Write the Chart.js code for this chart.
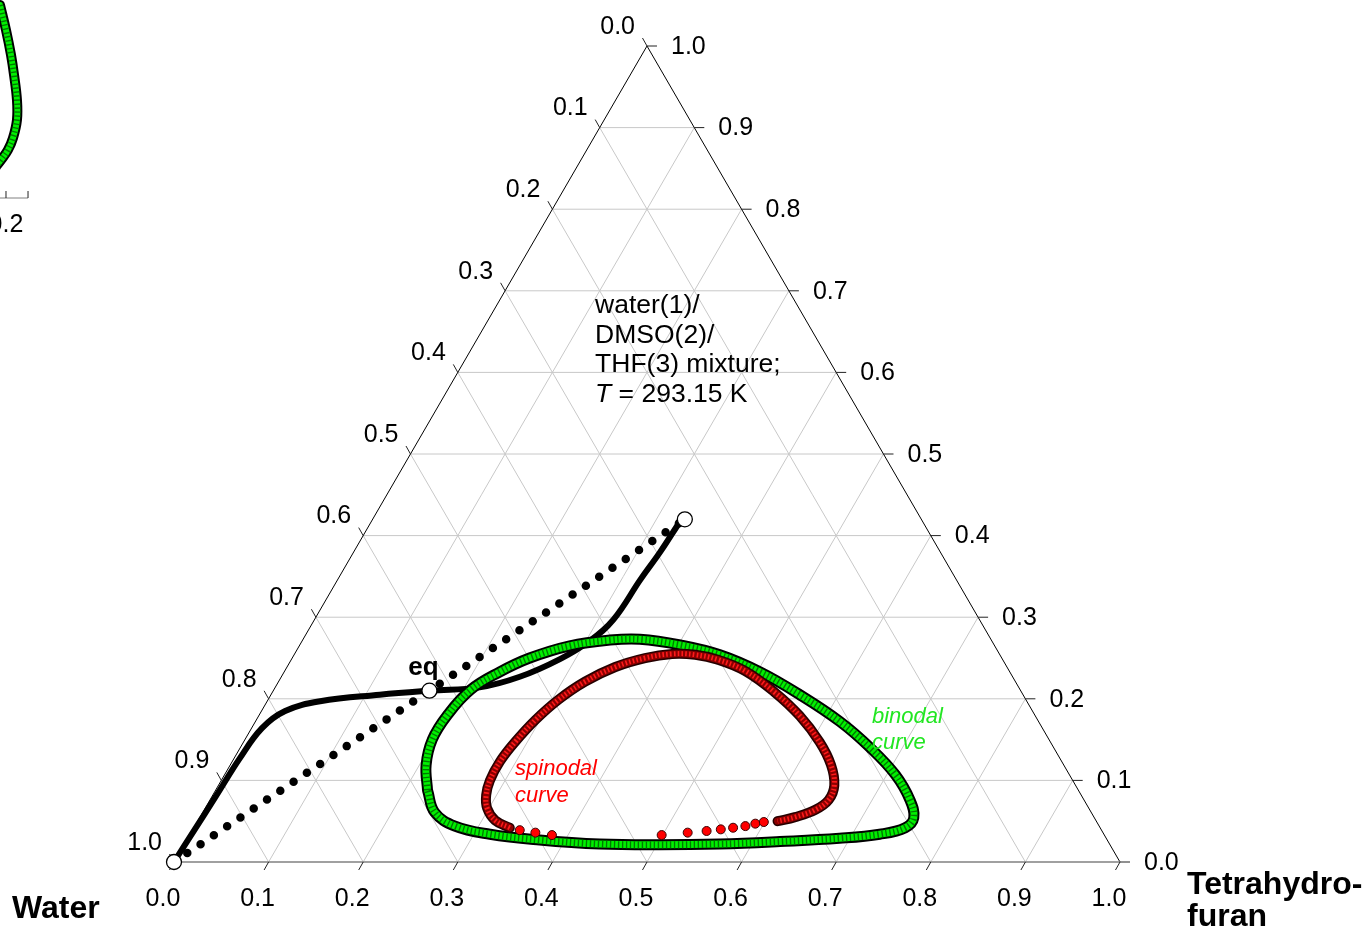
<!DOCTYPE html>
<html>
<head>
<meta charset="utf-8">
<title>water / DMSO / THF ternary diagram</title>
<script src="https://cdn.jsdelivr.net/npm/chart.js@4.4.1/dist/chart.umd.min.js"></script>
<style>
  html, body { margin: 0; padding: 0; background: #fff; overflow: hidden; }
  canvas { display: block; }
</style>
</head>
<body>
<canvas id="ternaryChart" width="1367" height="934"></canvas>
<script>
// ---- data: mole fractions THF (x3) and DMSO (x2); water x1 = 1 - x2 - x3 ----
const tickValues = [0, 0.1, 0.2, 0.3, 0.4, 0.5, 0.6, 0.7, 0.8, 0.9, 1.0];
const tickLabels = ['0.0', '0.1', '0.2', '0.3', '0.4', '0.5', '0.6', '0.7', '0.8', '0.9', '1.0'];

const binodalTHF  = [0.224, 0.207, 0.198, 0.199, 0.208, 0.228, 0.251, 0.286, 0.325, 0.356, 0.402, 0.450, 0.503, 0.559, 0.618,
                     0.666, 0.709, 0.740, 0.755, 0.752, 0.729, 0.689, 0.628, 0.566, 0.503, 0.439, 0.373, 0.317, 0.275, 0.245, 0.224];
const binodalDMSO = [0.088, 0.119, 0.150, 0.180, 0.211, 0.233, 0.250, 0.265, 0.272, 0.273, 0.266, 0.254, 0.233, 0.205, 0.172,
                     0.140, 0.107, 0.076, 0.054, 0.042, 0.034, 0.029, 0.025, 0.022, 0.021, 0.022, 0.027, 0.034, 0.044, 0.061, 0.088];

const spinodalTHF  = [0.334, 0.314, 0.298, 0.289, 0.284, 0.283, 0.287, 0.295, 0.307, 0.324, 0.347, 0.373, 0.399,
                      0.424, 0.451, 0.487, 0.531, 0.572, 0.609, 0.635, 0.651, 0.654, 0.646, 0.629, 0.613];
const spinodalDMSO = [0.042, 0.051, 0.066, 0.082, 0.100, 0.123, 0.147, 0.174, 0.199, 0.221, 0.239, 0.250, 0.255,
                      0.254, 0.248, 0.234, 0.208, 0.179, 0.147, 0.119, 0.094, 0.076, 0.064, 0.055, 0.050];
// spinodal points that stand apart along the lower branch
const spinodalDotTHF  = [0.346, 0.364, 0.383, 0.499, 0.525, 0.544, 0.558, 0.570, 0.582, 0.591, 0.599];
const spinodalDotDMSO = [0.039, 0.036, 0.033, 0.033, 0.036, 0.038, 0.040, 0.042, 0.044, 0.047, 0.049];

// composition path (solid black)
const pathTHF  = [0.000, 0.002, 0.004, 0.006, 0.011, 0.025, 0.056, 0.115, 0.166, 0.216, 0.252, 0.284, 0.304, 0.316, 0.320, 0.324, 0.326];
const pathDMSO = [0.000, 0.040, 0.080, 0.127, 0.164, 0.185, 0.197, 0.205, 0.210, 0.214, 0.227, 0.249, 0.271, 0.297, 0.346, 0.380, 0.413];

// tie line: pure water, equilibrium point "eq", feed
const tieTHF  = [0.000, 0.165, 0.330];
const tieDMSO = [0.000, 0.210, 0.420];

// cropped neighbouring panel at the top-left corner (plot units)
const insetX = [-0.1839, -0.1776, -0.1723, -0.1691, -0.1660, -0.1660, -0.1702, -0.1755, -0.1829, -0.1892];
const insetY = [0.9095, 0.8830, 0.8565, 0.8353, 0.8087, 0.7875, 0.7684, 0.7557, 0.7450, 0.7366];

// ---- helpers ----
const H = Math.sqrt(3) / 2;
function toXY(thf, dmso) { return { x: thf + dmso / 2, y: dmso * H }; }
function series(a, b) { return a.map((v, i) => toXY(v, b[i])); }

const FONT = '"Liberation Sans", Arial, sans-serif';

function band(data, color, width, extra) {
  return Object.assign({
    type: 'scatter', data: data, showLine: true, pointRadius: 0, tension: 0.4,
    borderColor: color, borderWidth: width, fill: false, borderJoinStyle: 'round', borderCapStyle: 'round'
  }, extra || {});
}

// ---- frame, grid, ticks and texts ----
const ternaryFrame = {
  id: 'ternaryFrame',
  beforeDatasetsDraw(chart) {
    const { ctx, scales: { x, y } } = chart;
    const P = (thf, dmso) => { const p = toXY(thf, dmso); return [x.getPixelForValue(p.x), y.getPixelForValue(p.y)]; };
    const seg = (a, b) => { ctx.beginPath(); ctx.moveTo(a[0], a[1]); ctx.lineTo(b[0], b[1]); ctx.stroke(); };
    ctx.save();
    ctx.strokeStyle = '#c8c8c8';
    ctx.lineWidth = 1;
    tickValues.slice(1, -1).forEach(v => {
      seg(P(0, v), P(1 - v, v));
      seg(P(v, 0), P(v, 1 - v));
      seg(P(1 - v, 0), P(0, 1 - v));
    });
    ctx.strokeStyle = '#000';
    seg(P(0, 0), P(0, 1));
    seg(P(1, 0), P(0, 1));
    ctx.strokeStyle = '#808080';
    ctx.lineWidth = 1.5;
    seg(P(0, 0), P(1, 0));
    ctx.strokeStyle = '#222';
    ctx.lineWidth = 1;
    tickValues.forEach(v => {
      const b = P(v, 0); seg(b, [b[0] - 4.5, b[1] + 8]);
      const r = P(1 - v, v); seg(r, [r[0] + 10, r[1]]);
      const l = P(0, 1 - v); seg(l, [l[0] - 4.5, l[1] - 8]);
    });
    // axis remnant of the neighbouring panel
    const ay = y.getPixelForValue(0.7047);
    ctx.strokeStyle = '#808080';
    seg([x.getPixelForValue(-0.19), ay], [x.getPixelForValue(-0.1543), ay]);
    ctx.strokeStyle = '#222';
    [-0.1776, -0.1543].forEach(t => seg([x.getPixelForValue(t), ay], [x.getPixelForValue(t), ay - 7]));
    ctx.restore();
  },
  afterDatasetsDraw(chart) {
    const { ctx, scales: { x, y } } = chart;
    const P = (thf, dmso) => { const p = toXY(thf, dmso); return [x.getPixelForValue(p.x), y.getPixelForValue(p.y)]; };
    const X = v => x.getPixelForValue(v), Y = v => y.getPixelForValue(v);
    ctx.save();
    ctx.fillStyle = '#000';
    ctx.font = '25px ' + FONT;
    ctx.textBaseline = 'middle';
    tickValues.forEach((v, i) => {
      const b = P(v, 0);
      ctx.textAlign = 'center'; ctx.fillText(tickLabels[i], b[0] - 11, b[1] + 37);
      const r = P(1 - v, v);
      ctx.textAlign = 'left'; ctx.fillText(tickLabels[i], r[0] + 24, r[1] + 1);
      const l = P(0, 1 - v);
      ctx.textAlign = 'right'; ctx.fillText(tickLabels[i], l[0] - 12, l[1] - 19);
    });
    ctx.textAlign = 'center';
    ctx.fillText('0.2', X(-0.1776), Y(0.7047) + 27);

    // mixture annotation
    ctx.textAlign = 'left';
    ctx.textBaseline = 'alphabetic';
    ctx.font = '26.5px ' + FONT;
    const ax = X(0.4451), ay = Y(0.5827);
    ['water(1)/', 'DMSO(2)/', 'THF(3) mixture;'].forEach((s, i) => ctx.fillText(s, ax, ay + i * 29.7));
    ctx.font = 'italic 26.5px ' + FONT;
    ctx.fillText('T', ax, ay + 3 * 29.7);
    const tw = ctx.measureText('T').width;
    ctx.font = '26.5px ' + FONT;
    ctx.fillText(' = 293.15 K', ax + tw, ay + 3 * 29.7);

    // eq label
    const e = P(tieTHF[1], tieDMSO[1]);
    ctx.font = 'bold 26px ' + FONT;
    ctx.textAlign = 'center';
    ctx.fillText('eq', e[0] - 6, e[1] - 16);

    // curve labels
    ctx.textAlign = 'left';
    ctx.font = 'italic 22px ' + FONT;
    ctx.fillStyle = '#ff0000';
    ctx.fillText('spinodal', X(0.3605), Y(0.0923));
    ctx.fillText('curve', X(0.3605), Y(0.0923) + 27);
    ctx.fillStyle = '#22e622';
    ctx.fillText('binodal', X(0.7378), Y(0.1475));
    ctx.fillText('curve', X(0.7378), Y(0.1475) + 26);

    // component names
    ctx.fillStyle = '#000';
    ctx.font = 'bold 32px ' + FONT;
    ctx.fillText('Water', X(-0.1712), Y(-0.0594));
    ctx.fillText('Tetrahydro-', X(1.0708), Y(-0.0340));
    ctx.fillText('furan', X(1.0708), Y(-0.0340) + 32);
    ctx.restore();
  }
};

// ---- chart ----
const binodal = series(binodalTHF, binodalDMSO);
const spinodal = series(spinodalTHF, spinodalDMSO);
const inset = insetX.map((v, i) => ({ x: v, y: insetY[i] }));

new Chart(document.getElementById('ternaryChart').getContext('2d'), {
  type: 'scatter',
  data: {
    datasets: [
      // drawn top first
      { data: series(tieTHF, tieDMSO), pointRadius: 7.5, pointBackgroundColor: '#fff',
        pointBorderColor: '#000', pointBorderWidth: 1.3, showLine: false },
      { data: series(spinodalDotTHF, spinodalDotDMSO), pointRadius: 4.5, pointBackgroundColor: '#ff0000',
        pointBorderColor: '#3a0000', pointBorderWidth: 1, showLine: false },
      band(spinodal, '#ff1a1a', 5, { borderDash: [1.6, 2.2], borderCapStyle: 'butt' }),
      band(spinodal, '#8a0000', 7),
      band(spinodal, '#240000', 10),
      band(binodal, '#007a00', 7, { borderDash: [1.4, 2.6], borderCapStyle: 'butt' }),
      band(binodal, '#00f000', 7),
      band(binodal, '#000', 11),
      band(inset, '#007a00', 6, { borderDash: [1.4, 2.6], borderCapStyle: 'butt' }),
      band(inset, '#00f000', 6),
      band(inset, '#000', 10),
      band(series(pathTHF, pathDMSO), '#000', 6),
      band(series(tieTHF, tieDMSO), '#000', 8.5, { tension: 0, borderDash: [0, 16], borderCapStyle: 'round' })
    ]
  },
  options: {
    responsive: false,
    animation: false,
    events: [],
    devicePixelRatio: 1,
    layout: { padding: 0, autoPadding: false },
    scales: {
      x: { type: 'linear', display: false, min: -0.18393, max: 1.26110 },
      y: { type: 'linear', display: false, min: -0.07641, max: 0.91485 }
    },
    plugins: { legend: { display: false }, tooltip: { enabled: false } }
  },
  plugins: [ternaryFrame]
});
</script>
</body>
</html>
